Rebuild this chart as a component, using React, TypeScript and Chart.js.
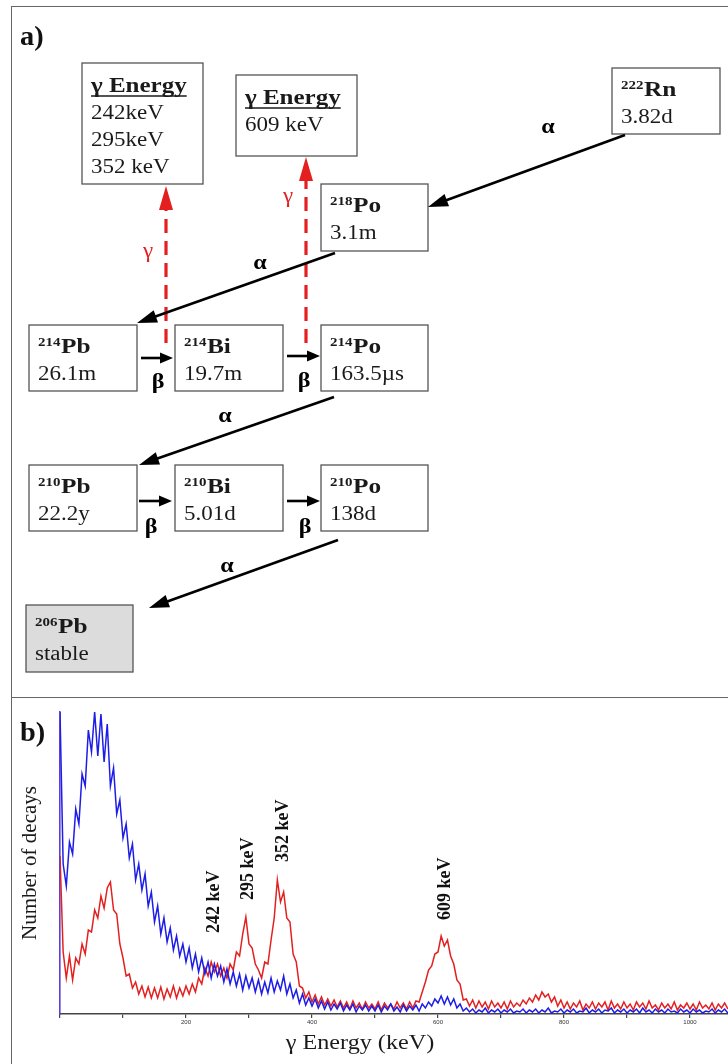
import React, { useEffect, useRef } from "react";
import { Chart, registerables } from "chart.js";

Chart.register(...registerables);

// ---------------- Spectrum data (panel b) ----------------
// one value per 5 keV channel, starting at 0 keV (arbitrary count units)
const CHANNEL_WIDTH_KEV = 5;
const X_TICK_LABELS = ["200", "400", "600", "800", "1000"];
const Y_AXIS_TITLE = "Number of decays";
const X_AXIS_TITLE = "γ Energy (keV)";

const BLUE_COUNTS = [
  302, 150, 128, 172, 160, 205, 190, 240, 228, 284,
  262, 302, 258, 300, 252, 290, 228, 246, 200, 214,
  176, 190, 156, 170, 134, 150, 124, 140, 108, 122,
  92, 108, 80, 96, 72, 86, 64, 78, 58, 70,
  52, 66, 46, 60, 42, 56, 40, 52, 36, 50,
  38, 48, 32, 45, 30, 42, 28, 40, 24, 38,
  26, 36, 22, 34, 20, 32, 21, 36, 22, 33,
  24, 38, 20, 30, 16, 24, 11, 20, 9, 16,
  8, 15, 6, 13, 5, 12, 4, 10, 5, 11,
  3, 9, 4, 10, 2, 8, 4, 9, 3, 8,
  3, 9, 2, 8, 4, 10, 3, 7, 2, 9,
  3, 8, 4, 9, 3, 10, 6, 12, 8, 15,
  11, 18, 10, 17, 9, 15, 6, 10, 3, 6,
  2, 5, 1, 4, 2, 6, 1, 4, 2, 5,
  1, 4, 2, 5, 1, 3, 2, 5, 1, 4,
  2, 5, 1, 4, 2, 6, 1, 3, 2, 5,
  1, 4, 2, 5, 1, 3, 2, 6, 1, 4,
  2, 5, 1, 4, 3, 6, 1, 4, 2, 5,
  1, 4, 2, 5, 1, 6, 2, 4, 1, 5,
  2, 4, 1, 5, 2, 3, 1, 5, 2, 4,
  1, 5, 2, 4, 1, 3, 2, 5, 1, 4,
  2, 5, 1,
];

const RED_COUNTS = [
  158, 62, 36, 58, 34, 56, 50, 70, 60, 84,
  82, 104, 96, 118, 106, 126, 132, 104, 100, 70,
  56, 38, 40, 26, 32, 20, 28, 17, 27, 16,
  26, 16, 27, 15, 25, 17, 28, 16, 26, 18,
  28, 20, 30, 22, 36, 30, 46, 38, 52, 42,
  50, 38, 46, 36, 50, 44, 62, 58, 80, 97,
  70, 66, 50, 44, 36, 52, 50, 74, 96, 134,
  112, 122, 96, 92, 60, 52, 28, 26, 16, 22,
  12, 19, 10, 17, 9, 15, 8, 14, 7, 13,
  6, 12, 5, 13, 6, 11, 5, 12, 6, 10,
  5, 12, 4, 11, 6, 10, 5, 12, 6, 11,
  5, 12, 6, 13, 12, 22, 32, 44, 48, 60,
  62, 78, 68, 74, 58, 50, 34, 30, 14, 15,
  8, 14, 6, 13, 7, 12, 5, 13, 7, 11,
  6, 12, 5, 13, 7, 11, 8, 14, 10, 16,
  12, 19, 14, 22, 17, 20, 12, 17, 8, 14,
  6, 12, 5, 11, 7, 13, 4, 10, 6, 12,
  5, 11, 7, 12, 4, 13, 6, 10, 5, 12,
  6, 10, 4, 12, 7, 11, 5, 13, 6, 9,
  4, 11, 6, 10, 5, 12, 4, 9, 6, 11,
  5, 10, 4, 12, 6, 9, 5, 11, 4, 10,
  6, 11, 5,
];

const PEAK_ENERGIES_KEV = [242, 295, 352, 609];
const PEAK_LABELS = ["242 keV", "295 keV", "352 keV", "609 keV"];

// ---------------- Decay chain data (panel a) ----------------
const NUCLIDE_SYMBOLS = ["Rn", "Po", "Pb", "Bi", "Po", "Pb", "Bi", "Po", "Pb"];
const MASS_NUMBERS = ["222", "218", "214", "214", "214", "210", "210", "210", "206"];
const HALF_LIVES = ["3.82d", "3.1m", "26.1m", "19.7m", "163.5µs", "22.2y", "5.01d", "138d", "stable"];
const DECAY_MODES = ["α", "α", "β", "β", "α", "β", "β", "α"];
const GAMMA_HEADER = "γ Energy";
const GAMMA_LINES_PB214 = ["242keV", "295keV", "352 keV"];
const GAMMA_LINES_BI214 = ["609 keV"];

// ---------------- Layout (positions, sizes, styles) ----------------
const LAYOUT = {
  nodeBoxes: [
    [612, 68, 720, 134],
    [321, 184, 428, 251],
    [29, 325, 137, 391],
    [175, 325, 283, 391],
    [321, 325, 428, 391],
    [29, 465, 137, 531],
    [175, 465, 283, 531],
    [321, 465, 428, 531],
    [26, 605, 133, 672],
  ],
  stableIndex: 8,
  gammaBoxes: [
    [82, 63, 203, 184],
    [236, 75, 357, 156],
  ],
  decayArrows: [
    [625, 135, 428, 207],
    [335, 253, 137, 323],
    [141, 358, 173, 358],
    [287, 356, 320, 356],
    [334, 397, 139, 465],
    [139, 501, 172, 501],
    [287, 501, 320, 501],
    [338, 540, 149, 608],
  ],
  decayLabels: [
    [548, 128],
    [260, 264],
    [158, 383],
    [304, 382],
    [225, 417],
    [151, 528],
    [305, 528],
    [227, 567],
  ],
  gammaArrows: [
    [166, 343, 186],
    [306, 343, 157],
  ],
  gammaLabels: [
    [148, 252],
    [288, 197],
  ],
  peakLabelBase: [81, 114, 152, 94],
};

const SERIF = '"Liberation Serif", "Times New Roman", serif';
const SX = 1.15; // horizontal stretch of the original figure's text
const RED = "#e3201f";
const BLUE = "#1d1de8";
const INK = "#1a1a1a";

function stretchText(
  ctx: CanvasRenderingContext2D,
  text: string,
  x: number,
  y: number,
  font: string,
  color: string,
  align: CanvasTextAlign = "left",
  baseline: CanvasTextBaseline = "alphabetic",
  sx: number = SX
): number {
  ctx.save();
  ctx.font = font;
  ctx.fillStyle = color;
  ctx.textAlign = align;
  ctx.textBaseline = baseline;
  ctx.translate(x, y);
  ctx.scale(sx, 1);
  ctx.fillText(text, 0, 0);
  const w = ctx.measureText(text).width * sx;
  ctx.restore();
  return w;
}

function drawArrow(
  ctx: CanvasRenderingContext2D,
  x0: number,
  y0: number,
  x1: number,
  y1: number,
  headLen: number,
  halfW: number,
  lw: number,
  color: string
) {
  const dx = x1 - x0;
  const dy = y1 - y0;
  const len = Math.hypot(dx, dy);
  const ux = dx / len;
  const uy = dy / len;
  const bx = x1 - ux * headLen;
  const by = y1 - uy * headLen;
  ctx.save();
  ctx.strokeStyle = color;
  ctx.fillStyle = color;
  ctx.lineWidth = lw;
  ctx.beginPath();
  ctx.moveTo(x0, y0);
  ctx.lineTo(bx + ux * 2, by + uy * 2);
  ctx.stroke();
  ctx.beginPath();
  ctx.moveTo(x1, y1);
  ctx.lineTo(bx - uy * halfW, by + ux * halfW);
  ctx.lineTo(bx + uy * halfW, by - ux * halfW);
  ctx.closePath();
  ctx.fill();
  ctx.restore();
}

const decayDiagramPlugin = {
  id: "decayDiagram",
  afterDraw(chart: any) {
    const ctx: CanvasRenderingContext2D = chart.ctx;
    const xs = chart.scales.x;
    const ys = chart.scales.y;
    const X = (v: number) => xs.getPixelForValue(v);
    const Y = (v: number) => ys.getPixelForValue(v);

    ctx.save();
    stretchText(ctx, "a)", X(20), Y(45), `bold 27px ${SERIF}`, "#111", "left", "alphabetic", 1.05);

    // gamma emission arrows (red dashed)
    LAYOUT.gammaArrows.forEach(([x, y0, yTip], i) => {
      const headLen = 24;
      const hw = 7;
      ctx.save();
      ctx.strokeStyle = RED;
      ctx.lineWidth = 3.2;
      ctx.setLineDash([14, 8]);
      ctx.beginPath();
      ctx.moveTo(X(x), Y(y0));
      ctx.lineTo(X(x), Y(yTip + headLen));
      ctx.stroke();
      ctx.setLineDash([]);
      ctx.fillStyle = RED;
      ctx.beginPath();
      ctx.moveTo(X(x), Y(yTip));
      ctx.lineTo(X(x) - hw, Y(yTip + headLen));
      ctx.lineTo(X(x) + hw, Y(yTip + headLen));
      ctx.closePath();
      ctx.fill();
      ctx.restore();
      const [lx, ly] = LAYOUT.gammaLabels[i];
      stretchText(ctx, "γ", X(lx), Y(ly), `20px ${SERIF}`, RED, "center", "middle");
    });

    // gamma energy boxes
    const gammaLists = [GAMMA_LINES_PB214, GAMMA_LINES_BI214];
    LAYOUT.gammaBoxes.forEach(([x0, y0, x1, y1], i) => {
      ctx.fillStyle = "#fff";
      ctx.fillRect(X(x0), Y(y0), X(x1) - X(x0), Y(y1) - Y(y0));
      ctx.strokeStyle = "#555";
      ctx.lineWidth = 1.3;
      ctx.strokeRect(X(x0), Y(y0), X(x1) - X(x0), Y(y1) - Y(y0));
      const tx = X(x0 + 9);
      const w = stretchText(ctx, GAMMA_HEADER, tx, Y(y0 + 29), `bold 20px ${SERIF}`, INK, "left", "alphabetic", 1.25);
      ctx.strokeStyle = INK;
      ctx.lineWidth = 1.6;
      ctx.beginPath();
      ctx.moveTo(tx, Y(y0 + 33));
      ctx.lineTo(tx + w, Y(y0 + 33));
      ctx.stroke();
      gammaLists[i].forEach((line, k) => {
        stretchText(ctx, line, tx, Y(y0 + 56 + 27 * k), `20px ${SERIF}`, INK);
      });
    });

    // nuclide boxes
    LAYOUT.nodeBoxes.forEach(([x0, y0, x1, y1], i) => {
      ctx.fillStyle = i === LAYOUT.stableIndex ? "#dcdcdc" : "#fff";
      ctx.fillRect(X(x0), Y(y0), X(x1) - X(x0), Y(y1) - Y(y0));
      ctx.strokeStyle = "#555";
      ctx.lineWidth = 1.3;
      ctx.strokeRect(X(x0), Y(y0), X(x1) - X(x0), Y(y1) - Y(y0));
      const tx = X(x0 + 9);
      const base = Y(y0 + 28);
      const sw = stretchText(ctx, MASS_NUMBERS[i], tx, base - 7, `bold 13px ${SERIF}`, INK);
      stretchText(ctx, NUCLIDE_SYMBOLS[i], tx + sw + 0.5, base, `bold 22px ${SERIF}`, INK);
      stretchText(ctx, HALF_LIVES[i], tx, Y(y0 + 55), `20px ${SERIF}`, INK);
    });

    // decay arrows
    LAYOUT.decayArrows.forEach(([x0, y0, x1, y1], i) => {
      const isAlpha = DECAY_MODES[i] === "α";
      drawArrow(ctx, X(x0), Y(y0), X(x1), Y(y1), isAlpha ? 20 : 13, isAlpha ? 6.5 : 5.5, 2.6, "#000");
      const [lx, ly] = LAYOUT.decayLabels[i];
      stretchText(ctx, DECAY_MODES[i], X(lx), Y(ly), `bold 21px ${SERIF}`, "#000", "center", "middle");
    });
    ctx.restore();
  },
};

const spectrumDecorPlugin = {
  id: "spectrumDecor",
  afterDraw(chart: any) {
    const ctx: CanvasRenderingContext2D = chart.ctx;
    const xs = chart.scales.x;
    const ys = chart.scales.y;
    ctx.save();
    // panel label
    stretchText(ctx, "b)", 20, 43, `bold 27px ${SERIF}`, "#111", "left", "alphabetic", 1.05);
    // peak labels, rotated
    PEAK_ENERGIES_KEV.forEach((e, i) => {
      const px = xs.getPixelForValue(e) + 2;
      const py = ys.getPixelForValue(LAYOUT.peakLabelBase[i]);
      ctx.save();
      ctx.translate(px, py);
      ctx.rotate(-Math.PI / 2);
      ctx.font = `bold 18px ${SERIF}`;
      ctx.fillStyle = "#111";
      ctx.textAlign = "left";
      ctx.textBaseline = "middle";
      ctx.fillText(PEAK_LABELS[i], 0, 0);
      ctx.restore();
    });
    // x axis title
    stretchText(ctx, X_AXIS_TITLE, chart.width / 2 - 4, 351, `21px ${SERIF}`, "#1a1a1a", "center");
    ctx.restore();
  },
};

export default function App() {
  const diagramRef = useRef<HTMLCanvasElement | null>(null);
  const spectrumRef = useRef<HTMLCanvasElement | null>(null);

  useEffect(() => {
    const diagram = new Chart(diagramRef.current as HTMLCanvasElement, {
      type: "scatter",
      data: { datasets: [] },
      options: {
        animation: false,
        responsive: false,
        devicePixelRatio: 1,
        layout: { padding: 0 },
        plugins: { legend: { display: false }, tooltip: { enabled: false } },
        scales: {
          x: { type: "linear", min: 0, max: 728, display: false },
          y: { type: "linear", min: 0, max: 697, reverse: true, display: false },
        },
      },
      plugins: [decayDiagramPlugin],
    } as any);

    const toPoints = (arr: number[]) => arr.map((v, i) => ({ x: i * CHANNEL_WIDTH_KEV, y: v }));

    const spectrum = new Chart(spectrumRef.current as HTMLCanvasElement, {
      type: "line",
      data: {
        datasets: [
          {
            label: "background",
            data: toPoints(BLUE_COUNTS),
            borderColor: BLUE,
            borderWidth: 1.5,
            pointRadius: 0,
            tension: 0,
            order: 0,
          },
          {
            label: "radon",
            data: toPoints(RED_COUNTS),
            borderColor: RED,
            borderWidth: 1.5,
            pointRadius: 0,
            tension: 0,
            order: 1,
          },
        ],
      },
      options: {
        animation: false,
        responsive: false,
        devicePixelRatio: 1,
        layout: { padding: { top: 14, bottom: 38, left: 0, right: 0 } },
        plugins: { legend: { display: false }, tooltip: { enabled: false } },
        scales: {
          x: {
            type: "linear",
            min: 0,
            max: 1060.3,
            ticks: {
              stepSize: 100,
              autoSkip: false,
              includeBounds: false,
              maxRotation: 0,
              padding: 1,
              color: "#333",
              font: { size: 6, family: '"Liberation Sans", sans-serif' },
              callback: (v: any) => (X_TICK_LABELS.includes(String(v)) ? String(v) : ""),
            },
            grid: { drawOnChartArea: false, drawTicks: true, tickLength: 4, color: "#444", lineWidth: 1.2 },
            border: { display: true, color: "#444", width: 1.5 },
            afterFit: (s: any) => {
              s.height = 12;
            },
          },
          y: {
            type: "linear",
            min: 0,
            max: 302,
            ticks: { display: false },
            grid: { display: false },
            border: { display: true, color: "#5b3fd6", width: 1.6 },
            title: {
              display: true,
              text: Y_AXIS_TITLE,
              color: "#1a1a1a",
              font: { family: SERIF, size: 21 },
              padding: { top: 18, bottom: 0 },
            },
            afterFit: (s: any) => {
              s.width = 60;
            },
          },
        },
      },
      plugins: [spectrumDecorPlugin],
    } as any);

    return () => {
      diagram.destroy();
      spectrum.destroy();
    };
  }, []);

  return (
    <div
      style={{
        position: "absolute",
        left: 0,
        top: 0,
        width: 728,
        height: 1064,
        overflow: "hidden",
        background: "#fff",
      }}
    >
      <div
        style={{
          position: "absolute",
          left: 11,
          top: 6,
          width: 760,
          height: 1100,
          borderLeft: "1.5px solid #666",
          borderTop: "1.5px solid #666",
        }}
      />
      <div
        style={{
          position: "absolute",
          left: 11,
          top: 697,
          width: 760,
          height: 0,
          borderTop: "1.5px solid #666",
        }}
      />
      <canvas
        ref={diagramRef}
        width={728}
        height={697}
        style={{ position: "absolute", left: 0, top: 0, width: 728, height: 697 }}
      />
      <canvas
        ref={spectrumRef}
        width={728}
        height={366}
        style={{ position: "absolute", left: 0, top: 698, width: 728, height: 366 }}
      />
    </div>
  );
}
